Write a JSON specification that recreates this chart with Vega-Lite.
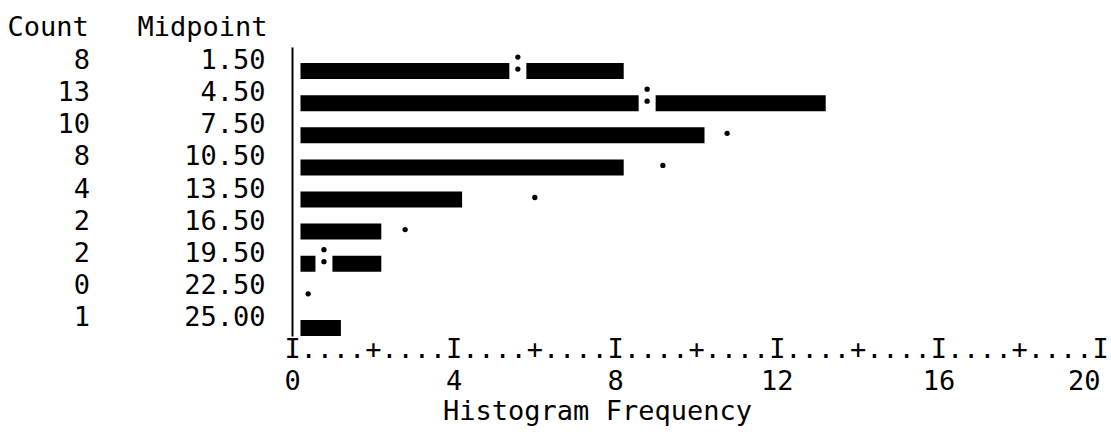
{
  "$schema": "https://vega.github.io/schema/vega-lite/v6.json",
  "autosize": "none",
  "width": 808,
  "height": 289,
  "padding": {"left": 292, "top": 47, "right": 11, "bottom": 96},
  "background": "white",
  "config": {
    "view": {"stroke": null},
    "font": "DejaVu Sans Mono",
    "axis": {"grid": false, "labelColor": "black", "titleColor": "black", "labelFont": "DejaVu Sans Mono", "titleFont": "DejaVu Sans Mono", "titleFontWeight": "normal"}
  },
  "data": {"values": [
    {"midpoint": "1.50", "count": 8, "normal": 5.38},
    {"midpoint": "4.50", "count": 13, "normal": 8.58},
    {"midpoint": "7.50", "count": 10, "normal": 10.56},
    {"midpoint": "10.50", "count": 8, "normal": 8.97},
    {"midpoint": "13.50", "count": 4, "normal": 5.80},
    {"midpoint": "16.50", "count": 2, "normal": 2.59},
    {"midpoint": "19.50", "count": 2, "normal": 0.58},
    {"midpoint": "22.50", "count": 0, "normal": 0.19},
    {"midpoint": "25.00", "count": 1, "normal": null}
  ]},
  "encoding": {
    "y": {"field": "midpoint", "type": "ordinal", "sort": null, "scale": {"paddingInner": 0, "paddingOuter": 0},
      "axis": {"domain": true, "domainColor": "black", "domainWidth": 2, "ticks": false, "labelFontSize": 27, "labelPadding": 27, "labelBaseline": "middle", "labelOffset": -2,
        "title": "Count\u00a0\u00a0\u00a0Midpoint", "titleAngle": 0, "titleAlign": "right", "titleBaseline": "middle", "titleX": -25, "titleY": -20, "titleFontSize": 27}}
  },
  "resolve": {"axis": {"x": "independent"}},
  "layer": [
    {
      "mark": {"type": "bar", "color": "black", "size": 16, "xOffset": 8.5, "yOffset": 8},
      "encoding": {
        "x": {"field": "count", "type": "quantitative", "scale": {"domain": [0, 20], "nice": false},
          "axis": {"orient": "bottom", "domain": false, "ticks": false, "labelOverlap": false, "labelFontSize": 27, "labelPadding": 0, "labelBaseline": "top", "labelAlign": "center", "labelFlush": false,
            "values": [0,0.4,0.8,1.2,1.6,2,2.4,2.8,3.2,3.6,4,4.4,4.8,5.2,5.6,6,6.4,6.8,7.2,7.6,8,8.4,8.8,9.2,9.6,10,10.4,10.8,11.2,11.6,12,12.4,12.8,13.2,13.6,14,14.4,14.8,15.2,15.6,16,16.4,16.8,17.2,17.6,18,18.4,18.8,19.2,19.6,20],
            "labelExpr": "round(datum.value*10) % 40 == 0 ? 'I' : (round(datum.value*10) % 20 == 0 ? '+' : '.')",
            "title": null}}
      }
    },
    {
      "transform": [{"filter": "datum.normal != null && datum.normal < datum.count"}],
      "mark": {"type": "tick", "color": "white", "orient": "vertical", "thickness": 17, "size": 20, "xOffset": 8.5, "yOffset": 8, "opacity": 1},
      "encoding": {
        "x": {"field": "normal", "type": "quantitative", "scale": {"domain": [0, 20], "nice": false}, "axis": null}
      }
    },
    {
      "transform": [{"filter": "datum.normal != null"}],
      "mark": {"type": "circle", "color": "black", "opacity": 1, "size": 28, "xOffset": 8.5, "yOffset": 6},
      "encoding": {
        "x": {"field": "normal", "type": "quantitative", "scale": {"domain": [0, 20], "nice": false},
          "axis": {"orient": "bottom", "domain": false, "ticks": false, "values": [0, 4, 8, 12, 16, 20], "labelFontSize": 27, "labelPadding": 32, "labelBaseline": "top", "labelFlush": false, "labelOverlap": false,
            "labelAlign": {"condition": {"test": "datum.value == 20", "value": "right"}, "value": "center"},
            "title": "Histogram Frequency", "titleFontSize": 27, "titleX": 305, "titleY": 62, "titleAlign": "center", "titleBaseline": "top"}}
      }
    },
    {
      "transform": [{"filter": "datum.normal != null && datum.normal < datum.count"}],
      "mark": {"type": "circle", "color": "black", "opacity": 1, "size": 28, "xOffset": 8.5, "yOffset": -6},
      "encoding": {
        "x": {"field": "normal", "type": "quantitative", "scale": {"domain": [0, 20], "nice": false}, "axis": null}
      }
    },
    {
      "mark": {"type": "text", "align": "right", "baseline": "middle", "fontSize": 27, "font": "DejaVu Sans Mono", "color": "black", "yOffset": -2},
      "encoding": {
        "x": {"datum": -5, "type": "quantitative", "scale": {"domain": [0, 20], "nice": false}, "axis": null},
        "text": {"field": "count", "type": "quantitative"}
      }
    }
  ]
}
